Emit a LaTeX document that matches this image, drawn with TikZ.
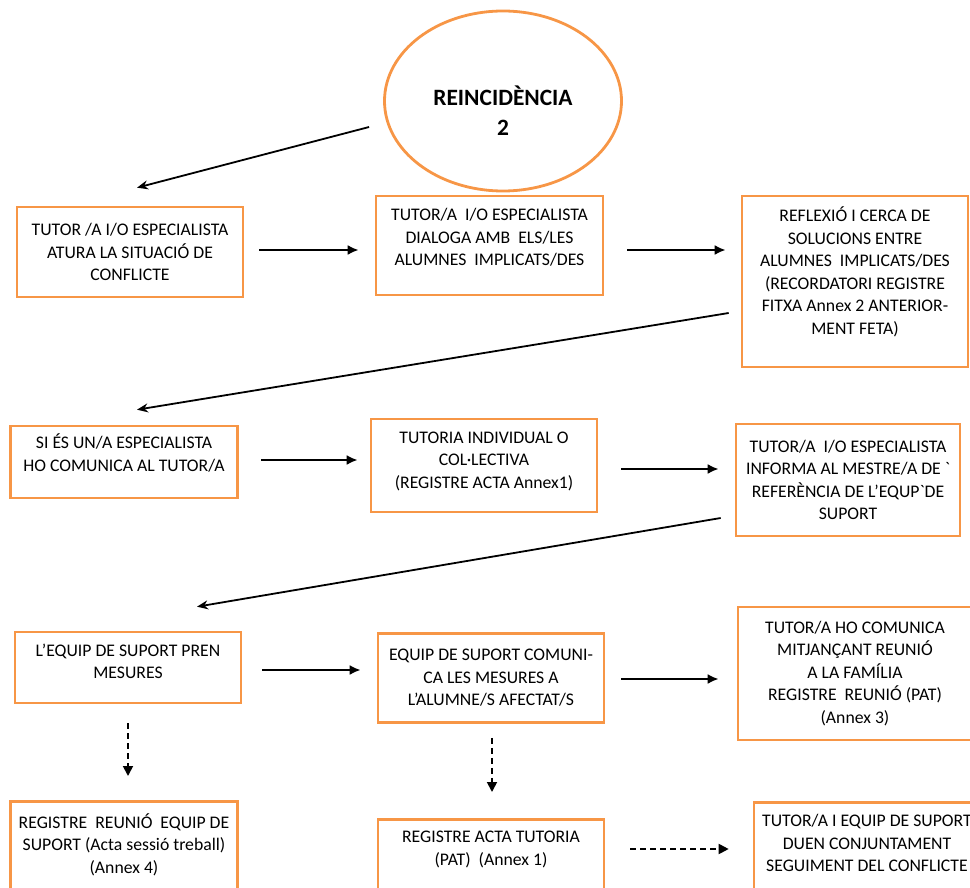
\documentclass[tikz,border=0pt]{standalone}
\usepackage{fontspec}
\setmainfont{Carlito}
\usepackage{tikz}
\usetikzlibrary{shapes.geometric, arrows, arrows.meta, positioning, calc}

\definecolor{boxorange}{HTML}{F79646}

\tikzset{
  stepbox/.style={draw=boxorange, line width=2.6pt, align=center,
    font=\fontsize{17.7}{22.5}\selectfont, inner xsep=4pt, inner ysep=6pt,
    minimum width=226pt},
  lastbox/.style={stepbox, anchor=north, inner ysep=12pt, text depth=80pt},
  flow/.style={-{Latex[length=11pt,width=10pt]}, line width=2.7pt},
  slant/.style={-{Stealth[length=11pt,width=9pt]}, line width=1.8pt},
  dashflow/.style={-{Triangle[length=10pt,width=10pt]}, line width=1.8pt, dash pattern=on 6pt off 4pt}
}

\begin{document}
\begin{tikzpicture}[x=1pt, y=-1pt]
\useasboundingbox (0,0) rectangle (970,888);
\clip (0,0) rectangle (970,888);

% Start
\node[ellipse, draw=boxorange, line width=2.8pt, minimum width=237pt, minimum height=180pt,
  font=\bfseries\fontsize{23.4}{30}\selectfont, align=center, text height=70pt] (reinc) at (503,101) {REINCIDÈNCIA\\2};

% Row 1
\node[stepbox, minimum height=90pt] (atura) at (130,252)
  {TUTOR /A I/O ESPECIALISTA\\ATURA LA SITUACIÓ DE\\CONFLICTE};
\node[stepbox, minimum width=227pt, minimum height=99pt, text depth=16.5pt] (dialoga) at (489.5,245.5)
  {TUTOR/A~~I/O ESPECIALISTA\\DIALOGA AMB~~ELS/LES\\ALUMNES~~IMPLICATS/DES};
\node[stepbox, minimum height=171pt, text depth=21.5pt] (reflexio) at (855,281.5)
  {REFLEXIÓ I CERCA DE\\SOLUCIONS ENTRE\\ALUMNES~~IMPLICATS/DES\\(RECORDATORI REGISTRE\\FITXA Annex 2 ANTERIOR-\\MENT FETA)};

% Row 2
\node[stepbox, minimum width=227pt, minimum height=72pt, text depth=18.5pt] (comunica) at (124,462)
  {SI ÉS UN/A ESPECIALISTA\\HO COMUNICA AL TUTOR/A};
\node[stepbox, minimum height=93pt, text depth=10.5pt] (tutoria) at (484,465.5)
  {TUTORIA INDIVIDUAL O\\COL·LECTIVA\\(REGISTRE ACTA Annex1)};
\node[stepbox, minimum width=224pt, minimum height=112pt] (informa) at (848,480)
  {TUTOR/A~~I/O ESPECIALISTA\\INFORMA AL MESTRE/A DE \textasciigrave\\REFERÈNCIA DE L’EQUP\textasciigrave DE\\SUPORT};

% Row 3
\node[stepbox, minimum height=71pt, text depth=12pt] (pren) at (128,667.5)
  {L’EQUIP DE SUPORT PREN\\MESURES};
\node[stepbox, minimum height=89pt] (mesures) at (491,678)
  {EQUIP DE SUPORT COMUNI-\\CA LES MESURES A\\L’ALUMNE/S AFECTAT/S};
\node[stepbox, minimum width=234pt, minimum height=133pt] (familia) at (855,673.5)
  {TUTOR/A HO COMUNICA\\MITJANÇANT REUNIÓ\\A LA FAMÍLIA\\REGISTRE~~REUNIÓ (PAT)\\(Annex 3)};

% Row 4
\node[lastbox, minimum width=227pt] (registre) at (124,800)
  {REGISTRE~~REUNIÓ~~EQUIP DE\\SUPORT (Acta sessió treball)\\(Annex 4)};
\node[lastbox] (actatutoria) at (491,818)
  {REGISTRE ACTA TUTORIA\\(PAT)~~(Annex 1)};
\node[lastbox] (seguiment) at (867,801)
  {TUTOR/A I EQUIP DE SUPORT\\DUEN CONJUNTAMENT\\SEGUIMENT DEL CONFLICTE};

% Arrows between rows
\draw[slant] ($(reinc.west)+(-14,26)$) -- ($(atura.north)+(7,-18)$);
\draw[slant] ($(reflexio.west)+(-12,31.5)$) -- ($(comunica.north)+(13,-15)$);
\draw[slant] ($(informa.west)+(-14,38)$) -- ($(pren.north)+(69,-24)$);

% Arrows inside rows
\draw[flow] ($(atura.east)+(15,-2)$) -- ($(dialoga.west)+(-16,4.5)$);
\draw[flow] ($(dialoga.east)+(23,4.5)$) -- ($(reflexio.west)+(-15,-31.5)$);
\draw[flow] ($(comunica.east)+(22.5,-2)$) -- ($(tutoria.west)+(-12,-5.5)$);
\draw[flow] ($(tutoria.east)+(23,3.5)$) -- ($(informa.west)+(-16,-11)$);
\draw[flow] ($(pren.east)+(20,2.5)$) -- ($(mesures.west)+(-16,-8)$);
\draw[flow] ($(mesures.east)+(16,1)$) -- ($(familia.west)+(-18,5.5)$);

% Dashed arrows
\draw[dashflow] ($(pren.south)+(0,19)$) -- ($(registre.north)+(4,-24)$);
\draw[dashflow] ($(mesures.south)+(1,14)$) -- ($(actatutoria.north)+(1,-26)$);
\draw[dashflow] ($(actatutoria.north east)+(25,31)$) -- ($(seguiment.north west)+(-24,48)$);
\end{tikzpicture}
\end{document}
